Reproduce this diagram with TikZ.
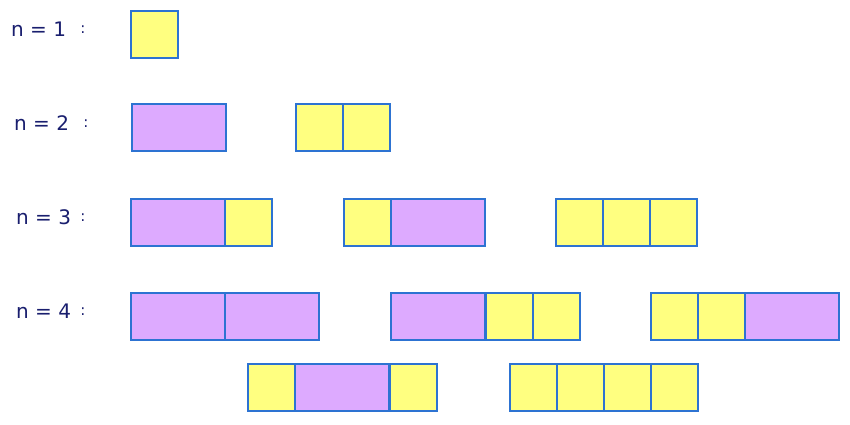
\documentclass[tikz,border=0pt]{standalone}
\usepackage{fontspec}
\setmainfont{DejaVu Sans}
\definecolor{cellY}{RGB}{255,255,128}
\definecolor{cellP}{RGB}{221,170,255}
\definecolor{cellB}{RGB}{45,115,210}
\definecolor{labC}{RGB}{25,30,110}
\tikzset{
  ybox/.style={draw=cellB,fill=cellY,line width=1.3pt},
  pbox/.style={draw=cellB,fill=cellP,line width=1.3pt},
  lab/.style={anchor=west,text=labC,font=\fontsize{20}{20}\selectfont,inner sep=0pt},
  colon/.style={anchor=center,text=labC,font=\fontsize{15}{15}\selectfont,inner sep=0pt}
}
% yellow square: x, y (top)
\newcommand\ysq[2]{\draw[ybox] (#1,#2) rectangle ++(47,47);}
\newcommand\prc[2]{\draw[pbox] (#1,#2) rectangle ++(94,47);}
\begin{document}
\begin{tikzpicture}[x=1pt,y=-1pt]
\useasboundingbox (0,0) rectangle (850,424);
% labels
\node[lab] (l1) at (11,29) {n = 1};
\node[colon] (c1) at (83,30) {:};
\node[lab] (l2) at (14,123) {n = 2};
\node[colon] (c2) at (86,124) {:};
\node[lab] (l3) at (16,217) {n = 3};
\node[colon] (c3) at (83,218) {:};
\node[lab] (l4) at (16,311) {n = 4};
\node[colon] (c4) at (83,312) {:};
% row 1
\ysq{131}{11}
% row 2
\prc{132}{104}
\ysq{296}{104}\ysq{343}{104}
% row 3
\prc{131}{199}\ysq{225}{199}
\ysq{344}{199}\prc{391}{199}
\ysq{556}{199}\ysq{603}{199}\ysq{650}{199}
% row 4
\prc{131}{293}\prc{225}{293}
\prc{391}{293}\ysq{486}{293}\ysq{533}{293}
\ysq{651}{293}\ysq{698}{293}\prc{745}{293}
% row 5
\ysq{248}{364}\prc{295}{364}\ysq{390}{364}
\ysq{510}{364}\ysq{557}{364}\ysq{604}{364}\ysq{651}{364}
\end{tikzpicture}
\end{document}
